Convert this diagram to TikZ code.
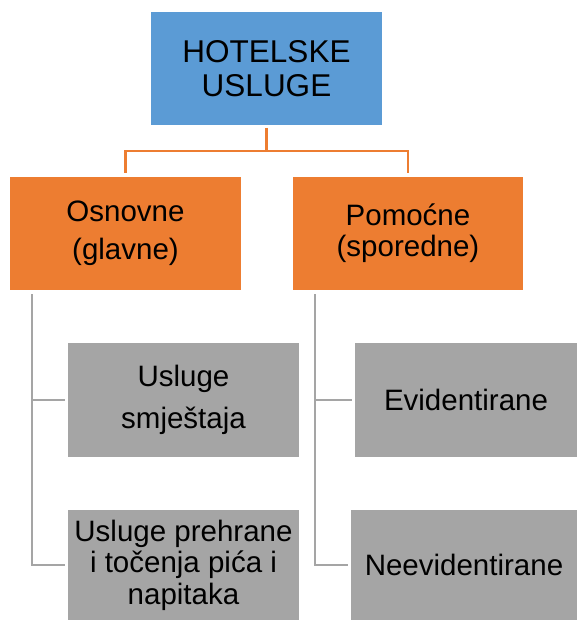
\documentclass[tikz,border=0pt]{standalone}
\usepackage{fontspec}
\setmainfont{Liberation Sans}
\usepackage{tikz}

\definecolor{boxblue}{HTML}{5B9BD5}
\definecolor{boxorange}{HTML}{ED7D31}
\definecolor{boxgray}{HTML}{A5A5A5}

\begin{document}
\begin{tikzpicture}[x=1pt,y=-1pt,
  every node/.style={inner sep=0pt, outer sep=0pt, align=center, text=black},
  box/.style={minimum width=#1, minimum height=113pt},
  bigtext/.style={font=\fontsize{29.5}{#1}\selectfont},
  orangeline/.style={draw=boxorange, line width=2.8pt, shorten <=3pt, shorten >=4pt},
  grayline/.style={draw=boxgray, line width=2.8pt, shorten <=4pt, shorten >=3pt}]
\useasboundingbox (0,0) rectangle (577,620);

\node[box=231pt, fill=boxblue, font=\fontsize{31.5}{34}\selectfont] (hotel) at (266.5,68.5) {HOTELSKE\\USLUGE};

\node[box=231pt, fill=boxorange, bigtext=38pt] (osnovne) at (125.5,233.5) {Osnovne\\(glavne)};
\node[box=230pt, fill=boxorange, bigtext=31pt] (pomocne) at (408,233.5) {Pomoćne\\(sporedne)};

\node[box=231pt, minimum height=114pt, fill=boxgray, bigtext=42pt] (smjestaj) at (183.5,400) {Usluge\\smještaja};
\node[box=231pt, minimum height=110pt, fill=boxgray, bigtext=31.5pt] (prehrana) at (183.5,565) {Usluge prehrane\\i točenja pića i\\napitaka};
\node[box=222pt, minimum height=114pt, fill=boxgray, bigtext=34pt] (evid) at (466,400) {Evidentirane};
\node[box=226pt, minimum height=110pt, fill=boxgray, bigtext=34pt] (neevid) at (464,565) {Neevidentirane};

\draw[orangeline] (hotel.south) -- ++(0,26) -| (osnovne.north);
\draw[orangeline] (hotel.south) -- ++(0,26) -| (pomocne.north);

\draw[grayline] ([xshift=22pt]osnovne.south west) |- (smjestaj.west);
\draw[grayline] ([xshift=22pt]osnovne.south west) |- (prehrana.west);
\draw[grayline] ([xshift=22pt]pomocne.south west) |- (evid.west);
\draw[grayline] ([xshift=22pt]pomocne.south west) |- (neevid.west);
\end{tikzpicture}
\end{document}
